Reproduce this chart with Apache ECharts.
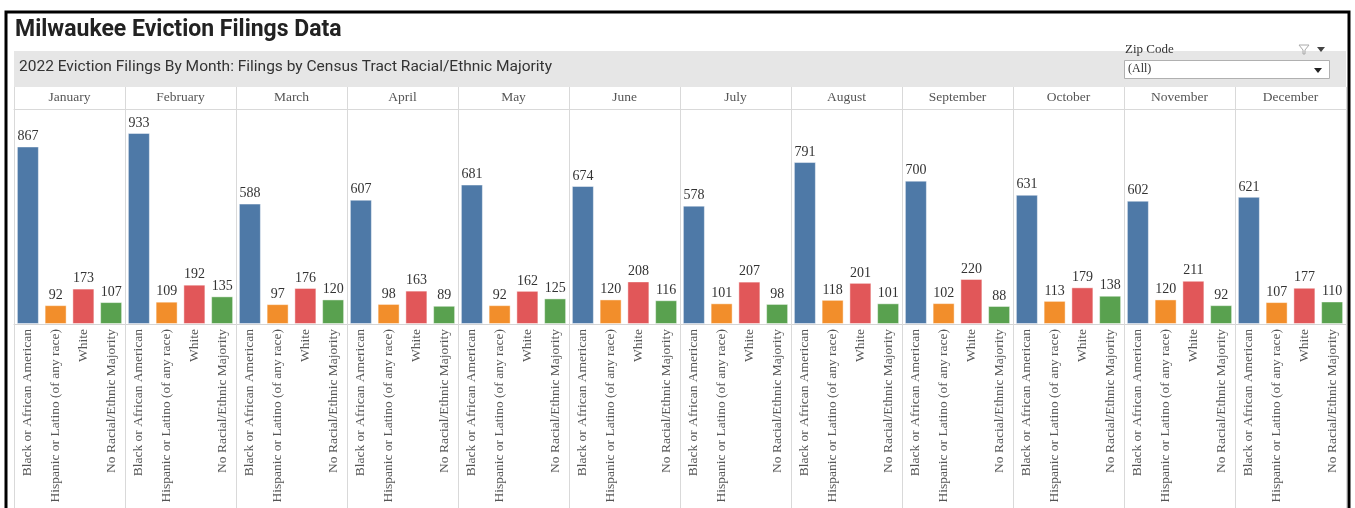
<!DOCTYPE html>
<html>
<head>
<meta charset="utf-8">
<script src="https://cdn.jsdelivr.net/npm/echarts@6/dist/echarts.min.js"></script>
<style>
html,body{margin:0;padding:0;background:#fff;}
#chart{width:1355px;height:508px;}
</style>
</head>
<body>
<div id="chart"></div>
<script>
const months = ["January","February","March","April","May","June","July","August","September","October","November","December"];
const categories = ["Black or African American","Hispanic or Latino (of any race)","White","No Racial/Ethnic Majority"];
const blackVals = [867,933,588,607,681,674,578,791,700,631,602,621];
const hispanicVals = [92,109,97,98,92,120,101,118,102,113,120,107];
const whiteVals = [173,192,176,163,162,208,207,201,220,179,211,177];
const noMajorityVals = [107,135,120,89,125,116,98,101,88,138,92,110];
const palette = ["#4e79a7","#f28e2b","#e15759","#59a14f"];

const SERIF = "'Liberation Serif', 'DejaVu Serif', serif";
const panelLeft = 14, panelW = 111, plotTop = 109, plotH = 215;

const grids = [], xAxes = [], yAxes = [], series = [], graphics = [];

// outer frame
graphics.push({type:'rect', shape:{x:6,y:12,width:1343,height:600}, style:{fill:null, stroke:'#000', lineWidth:3}, z:100});
// header band
graphics.push({type:'rect', shape:{x:14,y:51,width:1332,height:36}, style:{fill:'#e6e6e6'}, z:1});
graphics.push({type:'text', left:19, top:59, style:{text:'2022 Eviction Filings By Month: Filings by Census Tract Racial/Ethnic Majority', font:"15.5px Roboto", fill:'#333'}, z:5});
// zip code filter
graphics.push({type:'text', left:1125, top:43, style:{text:'Zip Code', font:"13px "+SERIF, fill:'#333'}, z:5});
graphics.push({type:'rect', shape:{x:1124.5,y:60.5,width:205,height:18}, style:{fill:'#fff', stroke:'#b0b0b0', lineWidth:1}, z:4});
graphics.push({type:'text', left:1128, top:63, style:{text:'(All)', font:"12px "+SERIF, fill:'#333'}, z:5});
graphics.push({type:'polygon', shape:{points:[[1314,68],[1322,68],[1318,73]]}, style:{fill:'#222'}, z:5});
graphics.push({type:'polygon', shape:{points:[[1299,45],[1309,45],[1305,50],[1305,54],[1303,54],[1303,50]]}, style:{fill:'none', stroke:'#aaa', lineWidth:1}, z:5});
graphics.push({type:'polygon', shape:{points:[[1317,47],[1325,47],[1321,52]]}, style:{fill:'#444'}, z:5});

for (let i = 0; i <= 12; i++) {
  const x = panelLeft + i*panelW + 0.5;
  graphics.push({type:'line', shape:{x1:x,y1:87,x2:x,y2:508}, style:{stroke:'#d9d9d9', lineWidth:1}, z:2});
}

months.forEach((m, i) => {
  grids.push({left: panelLeft + i*panelW, width: panelW, top: plotTop, height: plotH});
  xAxes.push({
    type:'category', gridIndex:i, data:categories, position:'bottom',
    axisLine:{show:true, lineStyle:{color:'#d4d4d4', width:1}},
    axisTick:{show:false},
    axisLabel:{interval:0, rotate:90, margin:5, fontFamily:SERIF, fontSize:13.5, color:'#555'}
  });
  xAxes.push({
    type:'category', gridIndex:i, data:[m], position:'top',
    axisLine:{show:true, lineStyle:{color:'#d9d9d9', width:1}},
    axisTick:{show:false},
    axisLabel:{interval:0, margin:5, fontFamily:SERIF, fontSize:13.5, color:'#555'}
  });
  yAxes.push({type:'value', gridIndex:i, min:0, max:1050, show:false, splitLine:{show:false}});
  series.push({
    type:'bar', xAxisIndex:i*2, yAxisIndex:i, colorBy:'data', barWidth:22,
    data:[blackVals[i], hispanicVals[i], whiteVals[i], noMajorityVals[i]],
    itemStyle:{borderColor:'rgba(255,255,255,0.45)', borderWidth:1},
    label:{show:true, position:'top', distance:3, fontFamily:SERIF, fontSize:14, color:'#333'},
    emphasis:{disabled:true}, animation:false
  });
});

const chart = echarts.init(document.getElementById('chart'), null, {renderer:'canvas'});
chart.setOption({
  backgroundColor:'#fff',
  animation:false,
  color: palette,
  title:{text:'Milwaukee Eviction Filings Data', left:10, top:14, textStyle:{fontFamily:'Roboto', fontWeight:'bold', fontSize:23, color:'#222'}},
  grid: grids, xAxis: xAxes, yAxis: yAxes, series: series, graphic: graphics
});
</script>
</body>
</html>
